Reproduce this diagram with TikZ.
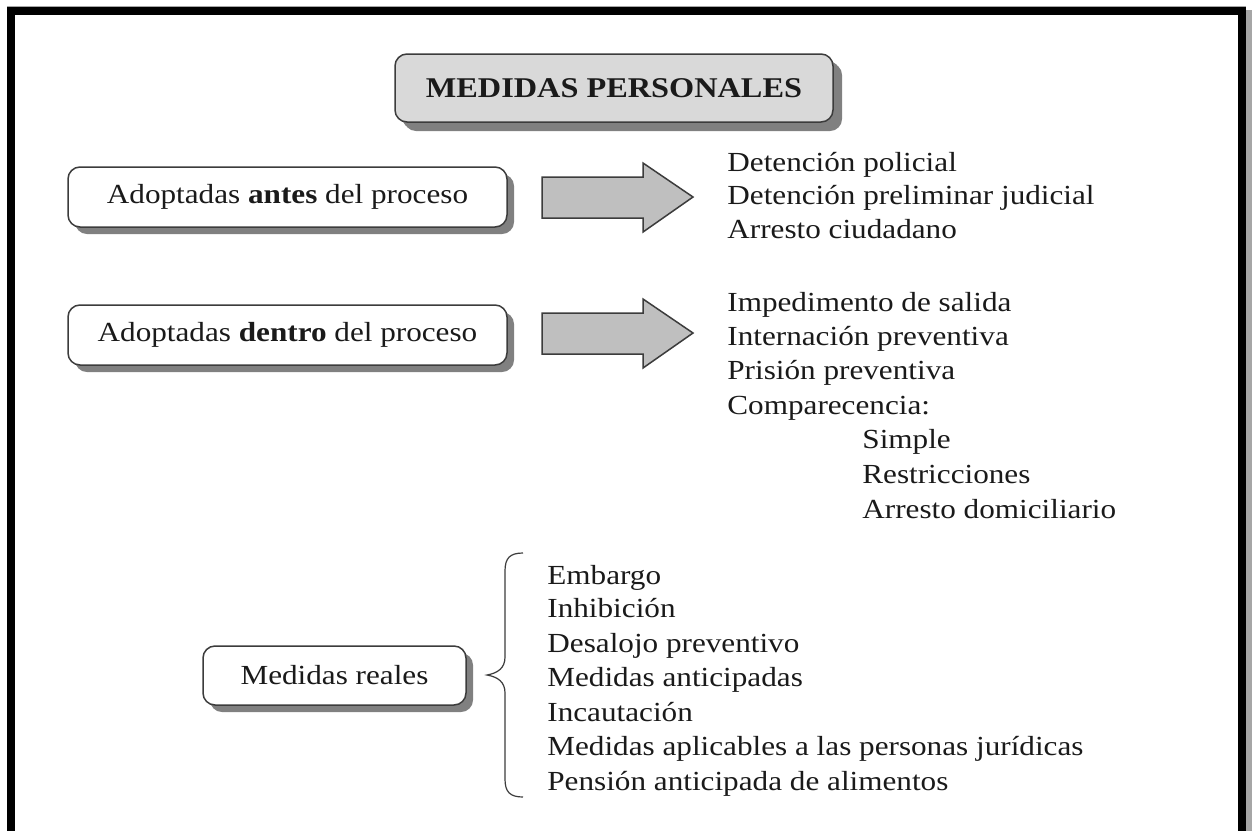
\documentclass[tikz,border=0pt]{standalone}
\usepackage{fontspec}
\setmainfont[FakeStretch=1.13]{Liberation Serif}
\usetikzlibrary{shadows}
\definecolor{txt}{HTML}{1A1A1A}
\definecolor{edge}{HTML}{3C3C3C}
\definecolor{titlefill}{HTML}{D9D9D9}
\definecolor{arrfill}{HTML}{BFBFBF}
\definecolor{shad}{HTML}{808080}
\begin{document}
\begin{tikzpicture}[x=0.5pt,y=-0.5pt,
  every node/.style={text=txt,font=\fontsize{13.8}{16.85}\selectfont},
  roundbox/.style={draw=edge,line width=0.75pt,rounded corners=6pt,fill=white,
    inner sep=0pt,
    drop shadow={shadow xshift=3.5pt,shadow yshift=-3.5pt,fill=shad,opacity=1}},
  listline/.style={anchor=base west,inner sep=0pt},
  bigarrow/.style={draw=edge,line width=0.75pt,fill=arrfill,line join=miter},
  bracepath/.style={draw=edge,line width=0.6pt}]
\useasboundingbox (0,0) rectangle (1253,831);
% frame
\fill[white] (0,0) rectangle (1253,831);
\draw[gray!70,line width=0.5pt] (7,6.5) -- (1246,6.5);
\fill[shad!70] (1246,10) rectangle (1252,831);
\fill[black] (7,7) rectangle (1246,15);
\fill[black] (7,7) rectangle (15,831);
\fill[black] (1238,7) rectangle (1246,831);
% title
\node[roundbox,fill=titlefill,minimum width=219pt,minimum height=34pt,
  font=\fontsize{14.3}{17}\selectfont,
  drop shadow={shadow xshift=4.5pt,shadow yshift=-4.5pt,fill=shad,opacity=1}]
  (title) at (614,88) {\textbf{MEDIDAS PERSONALES}};
% boxes
\node[roundbox,minimum width=219.5pt,minimum height=30pt] (antes) at (287.5,197)
  {Adoptadas \textbf{antes} del proceso};
\node[roundbox,minimum width=219.5pt,minimum height=30pt] (dentro) at (287.5,335)
  {Adoptadas \textbf{dentro} del proceso};
\node[roundbox,minimum width=131.5pt,minimum height=29.5pt] (reales) at (334.5,675.5)
  {Medidas reales};
% arrows
\draw[bigarrow] (542,177) -- (643,177) -- (643,163) -- (693,197) -- (643,232)
  -- (643,218) -- (542,218) -- cycle;
\draw[bigarrow] (542,313) -- (643,313) -- (643,299) -- (693,333) -- (643,368)
  -- (643,354) -- (542,354) -- cycle;
% list 1
\node[listline] (a1) at (727,171) {Detención policial};
\node[listline] (a2) at (727,204.5) {Detención preliminar judicial};
\node[listline] (a3) at (727,238.5) {Arresto ciudadano};
% list 2
\node[listline] (b1) at (727,311) {Impedimento de salida};
\node[listline] (b2) at (727,345) {Internación preventiva};
\node[listline] (b3) at (727,379) {Prisión preventiva};
\node[listline] (b4) at (727,414) {Comparecencia:};
\node[listline] (b5) at (862,448) {Simple};
\node[listline] (b6) at (862,483) {Restricciones};
\node[listline] (b7) at (862,518) {Arresto domiciliario};
% brace
\draw[bracepath] (523,553) .. controls (510,553) and (505,558) .. (505,571)
  -- (505,657) .. controls (505,668) and (498,673) .. (487,675)
  .. controls (498,677) and (505,682) .. (505,693)
  -- (505,779) .. controls (505,792) and (510,797) .. (523,797);
% list 3
\node[listline] (c1) at (547,584) {Embargo};
\node[listline] (c2) at (547,617.5) {Inhibición};
\node[listline] (c3) at (547,652) {Desalojo preventivo};
\node[listline] (c4) at (547,686) {Medidas anticipadas};
\node[listline] (c5) at (547,721) {Incautación};
\node[listline] (c6) at (547,755) {Medidas aplicables a las personas jurídicas};
\node[listline] (c7) at (547,790) {Pensión anticipada de alimentos};
\end{tikzpicture}
\end{document}
